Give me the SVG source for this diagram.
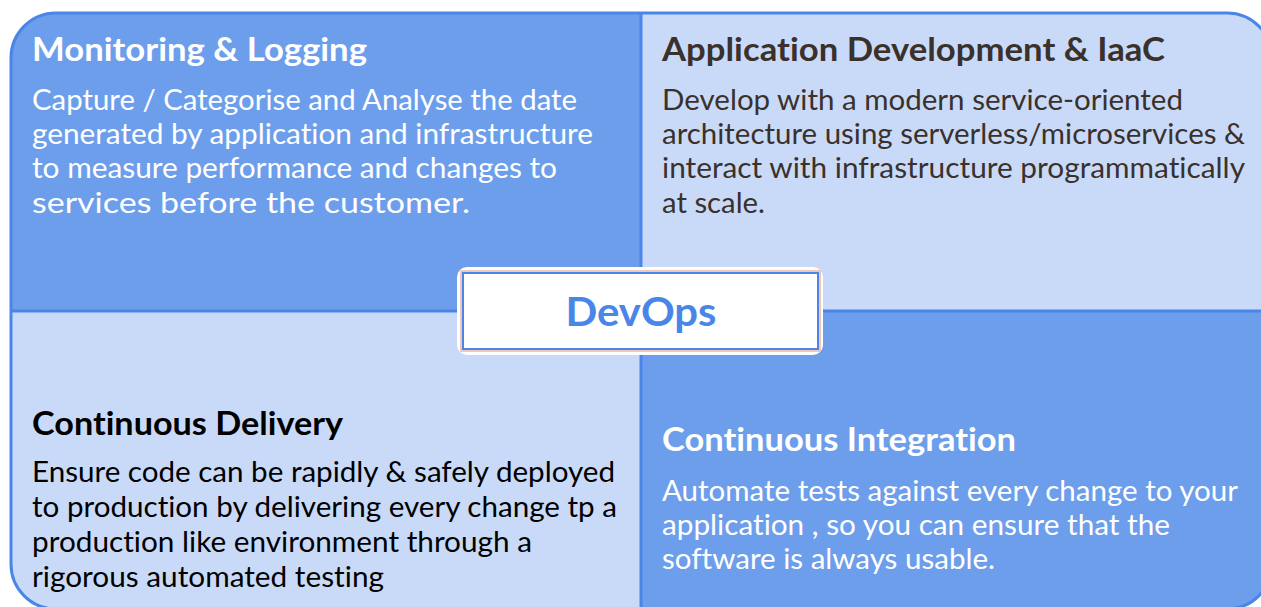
<svg xmlns="http://www.w3.org/2000/svg" width="1261" height="607" viewBox="0 0 1261 607">
<style>
.dark{fill:#6d9eeb}
.light{fill:#c9daf8}
text{font-variant-ligatures:none;font-feature-settings:"liga" 0,"clig" 0}
.title{font-family:Lato,"Open Sans","Liberation Sans",sans-serif;font-weight:bold;font-size:32px}
.body{font-family:Lato,"Open Sans","Liberation Sans",sans-serif;font-size:29px}
.w{fill:#ffffff}
.b{fill:#3a312c}
.k{fill:#000000}
.div{stroke:#4a86e8;stroke-width:3;fill:none}
</style>
<defs>
<clipPath id="outer"><rect x="11" y="13" width="1261" height="596" rx="45" ry="45"/></clipPath>
</defs>
<rect width="1261" height="607" fill="#ffffff"/>
<g clip-path="url(#outer)">
<g id="monitoring-logging">
<rect class="dark" x="0" y="0" width="641" height="311"/>
</g>
<g id="app-dev-iaac">
<rect class="light" x="641" y="0" width="640" height="311"/>
</g>
<g id="continuous-delivery">
<rect class="light" x="0" y="311" width="641" height="310"/>
</g>
<g id="continuous-integration">
<rect class="dark" x="641" y="311" width="640" height="310"/>
</g>
<line class="div" x1="641" y1="0" x2="641" y2="620"/>
<line class="div" x1="0" y1="311" x2="1280" y2="311"/>
</g>
<rect x="11" y="13" width="1261" height="596" rx="45" ry="45" fill="none" stroke="#4a86e8" stroke-width="3"/>
<g id="text-monitoring">
<text class="title w" x="32" y="61" textLength="335" lengthAdjust="spacingAndGlyphs">Monitoring &amp; Logging</text>
<text class="body w" x="32" y="110" textLength="545" lengthAdjust="spacingAndGlyphs">Capture / Categorise and Analyse the date</text>
<text class="body w" x="32" y="144" textLength="561" lengthAdjust="spacingAndGlyphs">generated by application and infrastructure</text>
<text class="body w" x="32" y="178" textLength="525" lengthAdjust="spacingAndGlyphs">to measure performance and changes to</text>
<text class="body w" x="32" y="213" textLength="438" lengthAdjust="spacingAndGlyphs">services before the customer.</text>
</g>
<g id="text-appdev">
<text class="title b" x="662" y="61" textLength="503" lengthAdjust="spacingAndGlyphs">Application Development &amp; IaaC</text>
<text class="body b" x="662" y="110" textLength="521" lengthAdjust="spacingAndGlyphs">Develop with a modern service-oriented</text>
<text class="body b" x="662" y="144" textLength="583" lengthAdjust="spacingAndGlyphs">architecture using serverless/microservices &amp;</text>
<text class="body b" x="662" y="178" textLength="583" lengthAdjust="spacingAndGlyphs">interact with infrastructure programmatically</text>
<text class="body b" x="662" y="213" textLength="103" lengthAdjust="spacingAndGlyphs">at scale.</text>
</g>
<g id="text-delivery">
<text class="title k" x="32" y="435" textLength="311" lengthAdjust="spacingAndGlyphs">Continuous Delivery</text>
<text class="body k" x="32" y="482" textLength="583" lengthAdjust="spacingAndGlyphs">Ensure code can be rapidly &amp; safely deployed</text>
<text class="body k" x="32" y="517" textLength="585" lengthAdjust="spacingAndGlyphs">to production by delivering every change tp a</text>
<text class="body k" x="32" y="552" textLength="500" lengthAdjust="spacingAndGlyphs">production like environment through a</text>
<text class="body k" x="32" y="587" textLength="352" lengthAdjust="spacingAndGlyphs">rigorous automated testing</text>
</g>
<g id="text-integration">
<text class="title w" x="662" y="451" textLength="354" lengthAdjust="spacingAndGlyphs">Continuous Integration</text>
<text class="body w" x="662" y="501" textLength="576" lengthAdjust="spacingAndGlyphs">Automate tests against every change to your</text>
<text class="body w" x="662" y="535" textLength="508" lengthAdjust="spacingAndGlyphs">application , so you can ensure that the</text>
<text class="body w" x="662" y="569" textLength="333" lengthAdjust="spacingAndGlyphs">software is always usable.</text>
</g>
<g id="devops">
<rect x="457" y="267" width="366" height="88" rx="10" ry="10" fill="#ffffff"/>
<rect x="461" y="271" width="359" height="80" fill="none" stroke="#f0b4a4" stroke-width="1.5"/>
<rect x="463" y="273" width="355" height="76" fill="#ffffff" stroke="#4a86e8" stroke-width="2"/>
<text x="641" y="326" text-anchor="middle" font-family="Lato,'Open Sans','Liberation Sans',sans-serif" font-weight="bold" font-size="40" fill="#4a86e8" textLength="151" lengthAdjust="spacingAndGlyphs">DevOps</text>
</g>
<g id="connectors"/>
</svg>
